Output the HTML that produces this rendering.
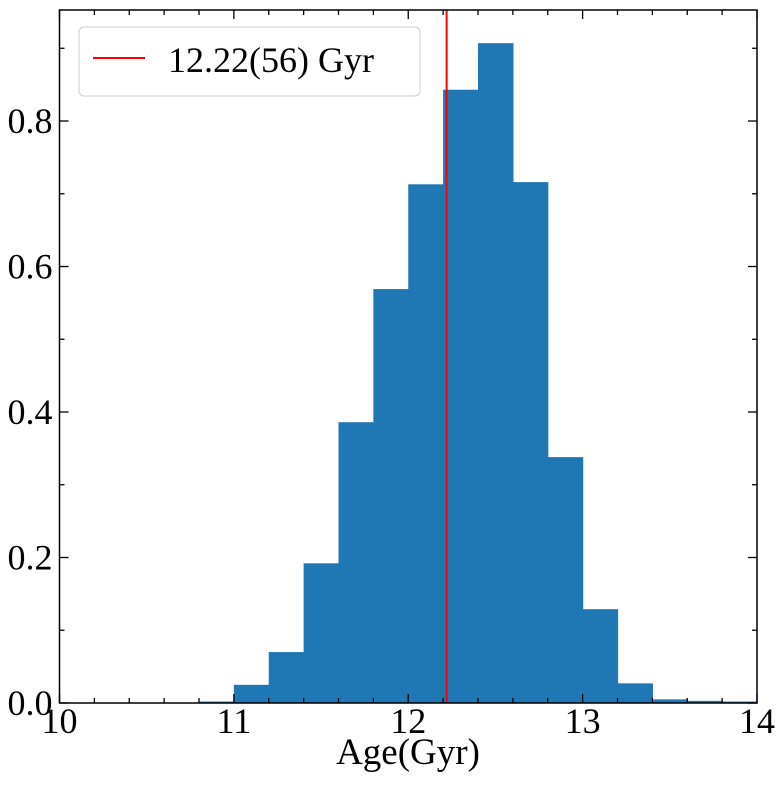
<!DOCTYPE html>
<html><head><meta charset="utf-8"><style>
body{margin:0;background:#fff;width:781px;height:789px;overflow:hidden}
text{font-family:"Liberation Serif",serif;fill:#000}
</style></head><body>
<svg id="chart" width="781" height="789" xmlns="http://www.w3.org/2000/svg"></svg>
<script>
const binStarts=[10.8,11.0,11.2,11.4,11.6,11.8,12.0,12.2,12.4,12.6,12.8,13.0,13.2,13.4,13.6,13.8];
const densities=[0.002,0.025,0.070,0.192,0.386,0.569,0.713,0.843,0.907,0.716,0.338,0.129,0.027,0.005,0.003,0.002];
const binWidth=0.2;
const meanAge=12.22;
const legendLabel="12.22(56) Gyr";
const xTicks=[10,11,12,13,14];
const yTicks=[0.0,0.2,0.4,0.6,0.8];
const L=59.5,R=757,T=10,B=703,xMin=10,xMax=14,yMin=0,yMax=0.9526;
const sx=v=>L+(v-xMin)/(xMax-xMin)*(R-L);
const sy=v=>B-(v-yMin)/(yMax-yMin)*(B-T);
const svg=document.getElementById('chart');
const NS='http://www.w3.org/2000/svg';
function mk(tag,attrs,parent){const e=document.createElementNS(NS,tag);for(const k in attrs)e.setAttribute(k,attrs[k]);(parent||svg).appendChild(e);return e;}
binStarts.forEach((b,i)=>{
 const r=mk('rect',{x:sx(b),y:sy(densities[i]),width:sx(b+binWidth)-sx(b)+0.6,height:B-sy(densities[i]),fill:'#1f77b4'});
 
 
});
const ml=mk('line',{x1:sx(meanAge),x2:sx(meanAge),y1:T,y2:B,stroke:'#ff0000','stroke-width':2});


for(let v=xMin;v<=xMax+1e-9;v+=0.2){
 const major=Math.abs(v-Math.round(v))<1e-6;const len=major?9:5;const x=sx(v);
 mk('line',{x1:x,x2:x,y1:B,y2:B-len,stroke:'#000','stroke-width':1.3});
 mk('line',{x1:x,x2:x,y1:T,y2:T+len,stroke:'#000','stroke-width':1.3});
}
for(let v=0;v<=yMax;v+=0.1){
 const major=Math.abs(v*5-Math.round(v*5))<1e-6;const len=major?9:5;const y=sy(v);
 mk('line',{x1:L,x2:L+len,y1:y,y2:y,stroke:'#000','stroke-width':1.3});
 mk('line',{x1:R,x2:R-len,y1:y,y2:y,stroke:'#000','stroke-width':1.3});
}
xTicks.forEach(v=>{const t=mk('text',{x:sx(v),y:B+30,'font-size':36,'text-anchor':'middle'});t.textContent=v;
 });
yTicks.forEach(v=>{const t=mk('text',{x:L-7,y:sy(v)+12,'font-size':36,'text-anchor':'end'});t.textContent=v.toFixed(1);
 });
const frame=mk('rect',{x:L,y:T,width:R-L,height:B-T,fill:'none',stroke:'#000','stroke-width':1.5});

const xl=mk('text',{x:408,y:764,'font-size':37,'text-anchor':'middle'});xl.textContent='Age(Gyr)';

const lg=mk('g',{});
mk('rect',{x:79,y:27,width:341,height:69,rx:5,fill:'#fff','fill-opacity':0.8,stroke:'#ccc','stroke-width':1},lg);
mk('line',{x1:93,x2:145,y1:58,y2:58,stroke:'#ff0000','stroke-width':2},lg);
const lt=mk('text',{x:168,y:72,'font-size':36},lg);lt.textContent=legendLabel;

</script>
</body></html>
